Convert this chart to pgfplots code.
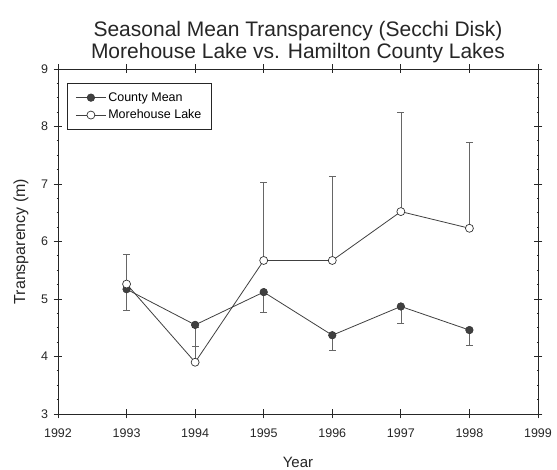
\documentclass[border=0pt]{standalone}
\usepackage{fontspec}
\setmainfont{Liberation Sans}
\usepackage{pgfplots}
\pgfplotsset{compat=1.18}
\begin{document}
\begin{tikzpicture}
\useasboundingbox (-58pt,-56pt) rectangle (499pt,414pt);
\begin{axis}[
  at={(0pt,0pt)}, anchor=south west,
  scale only axis, width=480pt, height=345pt,
  xmin=1992, xmax=1999, ymin=3, ymax=9,
  xtick={1992,1993,1994,1995,1996,1997,1998,1999},
  ytick={3,4,5,6,7,8,9},
  minor y tick num=3,
  /pgf/number format/assume math mode=true,
  /pgf/number format/1000 sep={},
  ticklabel style={font=\fontsize{12.5}{13}\selectfont, text=black!85},
  xticklabel style={yshift=-7pt},
  yticklabel style={xshift=-2pt},
  tick align=center,
  major tick length=9pt, minor tick length=3pt,
  tick style={black!85, line width=0.8pt},
  axis line style={black!85, line width=0.9pt},
  title={Seasonal Mean Transparency (Secchi Disk)\\Morehouse Lake vs. Hamilton County Lakes},
  title style={font=\fontsize{21}{22}\selectfont, align=center, text=black!85, yshift=-3pt},
  xlabel={Year}, ylabel={Transparency (m)},
  xlabel style={font=\fontsize{15}{16}\selectfont, text=black!85,
    at={(axis description cs:0.5,0)}, anchor=center, yshift=-48pt},
  ylabel style={font=\fontsize{16}{17}\selectfont, text=black!85,
    at={(axis description cs:-0.077,0.5)}, anchor=center},
  legend style={at={(0.019,0.959)}, anchor=north west, draw=black!85, line width=0.8pt,
    font=\fontsize{12.5}{13}\selectfont, inner xsep=8pt, inner ysep=7pt, row sep=3pt},
  legend cell align=left,
  legend image code/.code={\draw[mark repeat=2,mark phase=2] plot coordinates {(0pt,0pt)(15pt,0pt)(30pt,0pt)};},
]
\addplot[black!75, line width=0.8pt, mark=*, mark size=3.8pt,
  mark options={fill=black!75, draw=black!80, line width=0.5pt},
  error bars/.cd, y dir=minus, y explicit,
  error bar style={black!60, line width=0.7pt},
  error mark options={rotate=90, black!60, mark size=3.5pt, line width=0.8pt}]
  table[x=x, y=y, y error=e] {
x y e
1993 5.17 0.36
1994 4.55 0.37
1995 5.12 0.36
1996 4.37 0.26
1997 4.87 0.30
1998 4.46 0.26
};
\addlegendentry{County Mean}
\addplot[black!75, line width=0.8pt, mark=*, mark size=4pt,
  mark options={fill=white, draw=black!80, line width=0.7pt},
  error bars/.cd, y dir=plus, y explicit,
  error bar style={black!60, line width=0.7pt},
  error mark options={rotate=90, black!60, mark size=3.5pt, line width=0.8pt}]
  table[x=x, y=y, y error=e] {
x y e
1993 5.26 0.51
1994 3.90 0.60
1995 5.67 1.35
1996 5.67 1.46
1997 6.52 1.73
1998 6.23 1.50
};
\addlegendentry{Morehouse Lake}
\end{axis}
\end{tikzpicture}
\end{document}
